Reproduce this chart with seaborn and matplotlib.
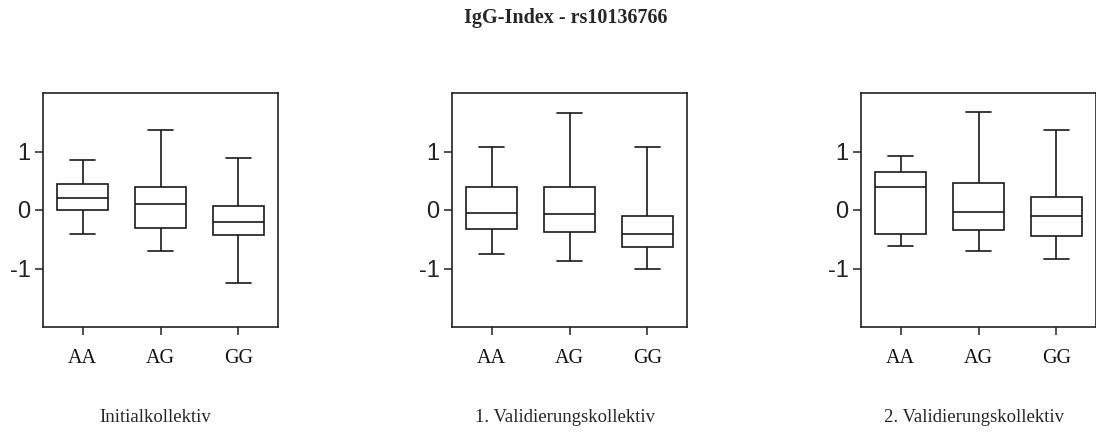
import matplotlib
matplotlib.use("Agg")
import matplotlib.pyplot as plt
import seaborn as sns
import pandas as pd

genotypes = ["AA", "AG", "GG"]
panel_titles = ["Initialkollektiv", "1. Validierungskollektiv", "2. Validierungskollektiv"]
main_title = "IgG-Index - rs10136766"

# five-number summaries per genotype: [whisker low, Q1, median, Q3, whisker high]
initial_stats = {
    "AA": [-0.41, 0.00, 0.205, 0.44, 0.85],
    "AG": [-0.70, -0.30, 0.11, 0.40, 1.37],
    "GG": [-1.24, -0.43, -0.21, 0.06, 0.89],
}
valid1_stats = {
    "AA": [-0.75, -0.32, -0.05, 0.40, 1.08],
    "AG": [-0.88, -0.37, -0.07, 0.40, 1.66],
    "GG": [-1.00, -0.63, -0.41, -0.10, 1.08],
}
valid2_stats = {
    "AA": [-0.61, -0.41, 0.40, 0.65, 0.92],
    "AG": [-0.70, -0.35, -0.03, 0.47, 1.68],
    "GG": [-0.84, -0.45, -0.11, 0.22, 1.37],
}
yticks = [-1, 0, 1]

sns.set_style("white")
plt.rcParams["font.family"] = ["Liberation Sans", "DejaVu Sans"]

fig = plt.figure(figsize=(10.96, 4.32), dpi=100)
lefts = [43 / 1096, 452 / 1096, 861 / 1096]
bottom = (432 - 327) / 432
width = 235 / 1096
height = 234 / 432

all_stats = [initial_stats, valid1_stats, valid2_stats]
for left, stats, ptitle in zip(lefts, all_stats, panel_titles):
    ax = fig.add_axes([left, bottom, width, height])
    rows = []
    for g in genotypes:
        for v in stats[g]:
            rows.append({"Genotyp": g, "Wert": v})
    df = pd.DataFrame(rows)
    sns.boxplot(data=df, x="Genotyp", y="Wert", order=genotypes, ax=ax,
                whis=(0, 100), width=0.65, color="white", linecolor="#1a1a1a",
                linewidth=1.2, showfliers=False, saturation=1)
    ax.set_xlim(-0.51, 2.51)
    ax.set_ylim(-2, 2)
    ax.set_yticks(yticks)
    ax.set_yticklabels([str(t) for t in yticks], fontsize=17, color="#222222")
    ax.set_xticks(range(len(genotypes)))
    ax.set_xticklabels(genotypes, fontsize=14.5, family="Liberation Serif", color="#111111")
    ax.tick_params(axis="both", which="major", length=6, width=1.1, color="#222222",
                   left=True, bottom=True)
    ax.tick_params(axis="x", pad=10)
    ax.tick_params(axis="y", pad=3)
    ax.set_ylabel("")
    ax.set_xlabel(ptitle, fontsize=13.5, family="Liberation Serif")
    ax.xaxis.set_label_coords(0.479, -0.352)
    for sp in ax.spines.values():
        sp.set_visible(True)
        sp.set_color("#222222")
        sp.set_linewidth(1.2)

fig.text(566 / 1096, 1 - 18 / 432, main_title, ha="center", va="center",
         fontsize=14.5, fontweight="bold", family="Liberation Serif")

fig.savefig("out.png", dpi=100, facecolor="white")
